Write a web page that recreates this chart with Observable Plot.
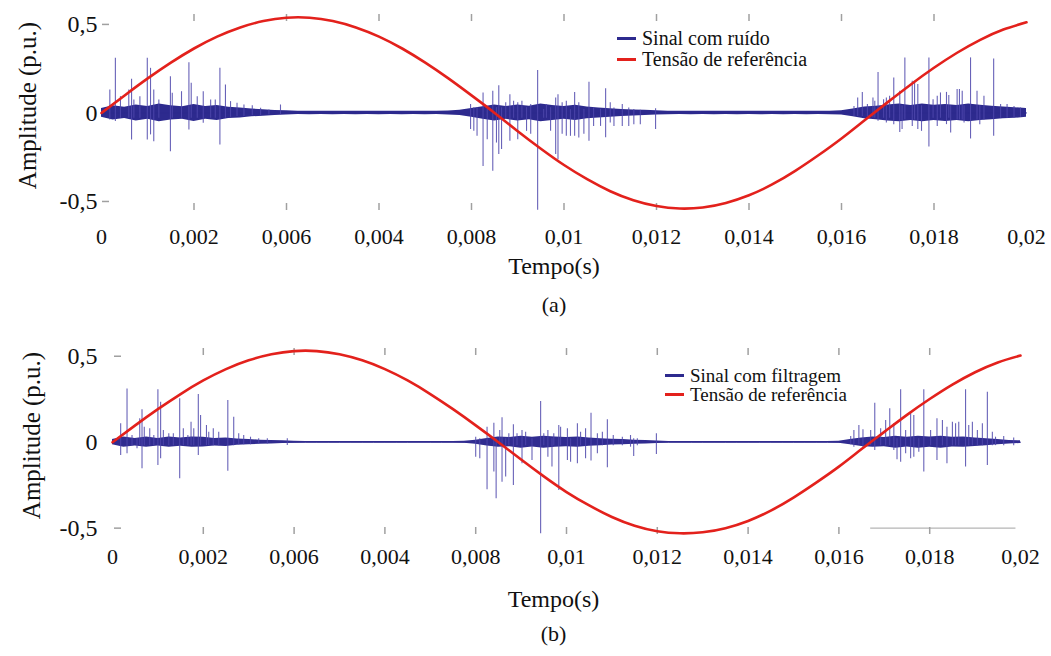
<!DOCTYPE html>
<html><head><meta charset="utf-8">
<script src="https://cdn.jsdelivr.net/npm/d3@7"></script>
<script src="https://cdn.jsdelivr.net/npm/@observablehq/plot@0.6"></script>
<style>
body{margin:0;background:#fff;}
#wrap{position:relative;width:1051px;height:656px;font-family:"Liberation Serif",serif;color:#111;overflow:hidden;}
.panel{position:absolute;left:0;}
.panel svg{display:block;}
.legend{position:absolute;color:#111;}
.legend div{display:flex;align-items:center;white-space:nowrap;}
.legend .sw{display:inline-block;width:19px;height:2.5px;margin-right:6px;}
</style></head>
<body><div id="wrap"></div>
<script>
// ---- axis ticks / labels ----
const xTickValues = [0,0.002,0.004,0.006,0.008,0.01,0.012,0.014,0.016,0.018,0.02];
const xTickLabels = ["0","0,002","0,006","0,004","0,008","0,01","0,012","0,014","0,016","0,018","0,02"];
const xTickMarks = [0.002,0.004,0.006,0.008,0.01,0.012,0.014,0.016,0.018];
const yTickValues = [-0.5,0,0.5];
const yTickLabels = ["-0,5","0","0,5"];
const xTitle = "Tempo(s)";
const yTitle = "Amplitude (p.u.)";
const seriesNamesA = ["Sinal com ruído","Tensão de referência"];
const seriesNamesB = ["Sinal com filtragem","Tensão de referência"];

// ---- reference voltage (red) ----
const refTime = [0,0.0005,0.001,0.0015,0.002,0.0025,0.003,0.0035,0.004,0.0045,0.005,0.0055,0.006,0.0065,0.007,0.0075,0.008,0.0085,0.009,0.0095,0.01,0.0105,0.011,0.0115,0.012,0.0125,0.013,0.0135,0.014,0.0145,0.015,0.0155,0.016,0.0165,0.017,0.0175,0.018,0.0185,0.019,0.0195,0.02];
const refA = [0,0.099,0.195,0.284,0.364,0.431,0.483,0.519,0.538,0.538,0.519,0.483,0.431,0.364,0.284,0.195,0.099,0,-0.103,-0.202,-0.294,-0.374,-0.442,-0.493,-0.526,-0.54,-0.534,-0.508,-0.465,-0.404,-0.327,-0.239,-0.144,-0.041,0.061,0.161,0.255,0.34,0.413,0.471,0.512];
const refB = [0,0.098,0.192,0.28,0.359,0.425,0.476,0.511,0.53,0.53,0.511,0.476,0.425,0.359,0.28,0.192,0.098,0,-0.101,-0.199,-0.29,-0.368,-0.435,-0.486,-0.518,-0.53,-0.524,-0.5,-0.458,-0.398,-0.322,-0.235,-0.142,-0.04,0.06,0.159,0.251,0.335,0.407,0.464,0.504];

// ---- dense noise band half-width (blue) ----
const bandTime = [0,0.00025,0.0005,0.00075,0.001,0.00125,0.0015,0.00175,0.002,0.00225,0.0025,0.00275,0.003,0.00325,0.0035,0.00375,0.004,0.00425,0.0045,0.00475,0.005,0.00525,0.0055,0.00575,0.006,0.00625,0.0065,0.00675,0.007,0.00725,0.0075,0.00775,0.008,0.00825,0.0085,0.00875,0.009,0.00925,0.0095,0.00975,0.01,0.01025,0.0105,0.01075,0.011,0.01125,0.0115,0.01175,0.012,0.01225,0.0125,0.01275,0.013,0.01325,0.0135,0.01375,0.014,0.01425,0.0145,0.01475,0.015,0.01525,0.0155,0.01575,0.016,0.01625,0.0165,0.01675,0.017,0.01725,0.0175,0.01775,0.018,0.01825,0.0185,0.01875,0.019,0.01925,0.0195,0.01975,0.02];
const bandA = [0.025,0.04,0.032,0.045,0.036,0.05,0.04,0.035,0.048,0.036,0.042,0.032,0.028,0.022,0.018,0.014,0.012,
0.009,0.01,0.009,0.01,0.009,0.01,0.009,0.01,0.009,0.01,0.009,0.01,0.009,0.011,
0.015,0.025,0.035,0.045,0.036,0.045,0.038,0.05,0.042,0.036,0.043,0.033,0.028,0.024,0.02,0.017,0.015,0.012,
0.01,0.009,0.01,0.009,0.01,0.009,0.01,0.009,0.01,0.009,0.01,0.009,0.01,0.009,0.01,0.012,
0.022,0.033,0.038,0.045,0.05,0.042,0.05,0.043,0.048,0.042,0.05,0.043,0.038,0.033,0.03,0.025];
const bandB = [0.015,0.03,0.022,0.03,0.022,0.03,0.024,0.03,0.028,0.022,0.025,0.018,0.015,0.012,0.01,0.008,0.006,
0.004,0.004,0.004,0.004,0.004,0.004,0.004,0.004,0.004,0.004,0.004,0.004,0.004,0.004,
0.006,0.012,0.022,0.03,0.027,0.035,0.028,0.035,0.03,0.027,0.03,0.024,0.02,0.017,0.015,0.012,0.01,0.007,
0.004,0.004,0.004,0.004,0.004,0.004,0.004,0.004,0.004,0.004,0.004,0.004,0.004,0.004,0.004,0.006,
0.015,0.025,0.03,0.027,0.035,0.028,0.035,0.03,0.035,0.028,0.03,0.025,0.02,0.015,0.01,0.008];

// ---- spikes, panel (a) ----
const spikeTA = [0.00018,0.0003,0.00041,0.00059,0.00065,0.0007,0.00083,0.00099,0.00106,0.00113,0.00124,0.00149,0.00153,0.00173,0.00189,0.00194,0.00207,0.0022,0.00236,0.00246,0.00256,0.00268,0.00279,0.00293,0.00308,0.00326,0.00344,0.00362,0.00387,
0.00798,0.00805,0.00812,0.00825,0.00834,0.00846,0.00854,0.00859,0.00865,0.00874,0.00883,0.00891,0.009,0.00909,0.00919,0.00928,0.00943,0.00956,0.00962,0.00971,0.00982,0.00987,0.00996,0.01005,0.01014,0.01023,0.01032,0.01043,0.01054,0.01064,0.01079,0.0109,0.011,0.01108,0.01126,0.0114,0.01151,0.01165,0.01198,
0.01627,0.01635,0.01645,0.01656,0.01668,0.01672,0.01679,0.01691,0.01697,0.01704,0.01713,0.01726,0.01731,0.01737,0.01753,0.01758,0.01765,0.01773,0.01789,0.01798,0.01807,0.01814,0.01827,0.01832,0.01836,0.0185,0.01855,0.01861,0.01865,0.01879,0.01893,0.01899,0.01908,0.01929,0.01944,0.01958,0.01973,0.01987];
const spikeHiA = [0.13,0.309,0.092,0.13,0.19,0.073,0.092,0.309,0.252,0.13,0.073,0.205,0.111,0.12,0.284,0.168,0.092,0.12,0.073,0.073,0.252,0.158,0.064,0.055,0.045,0.04,0.026,0.017,0.045,
0.047,0.03,0.03,0.113,0.019,0.122,0.03,0.154,0.03,0.057,0.103,0.066,0.057,0.066,0.03,0.047,0.24,0.019,0.047,0.03,0.085,0.103,0.057,0.066,0.019,0.116,0.057,0.019,0.173,0.028,0.02,0.136,0.057,0.028,0.047,0.028,0.019,0.015,0.023,
0.037,0.085,0.116,0.047,0.085,0.066,0.229,0.075,0.085,0.094,0.198,0.122,0.04,0.311,0.179,0.179,0.16,0.04,0.311,0.075,0.094,0.113,0.116,0.098,0.04,0.132,0.132,0.122,0.04,0.311,0.122,0.04,0.094,0.305,0.047,0.047,0.037,0.028];
const spikeLoA = [-0.04,-0.049,-0.03,-0.03,-0.153,-0.03,-0.03,-0.153,-0.124,-0.162,-0.03,-0.219,-0.03,-0.03,-0.096,-0.03,-0.03,-0.058,-0.03,-0.03,-0.181,-0.03,-0.025,-0.02,-0.02,-0.015,-0.015,-0.01,-0.01,
-0.094,-0.104,-0.132,-0.302,-0.151,-0.33,-0.17,-0.235,-0.207,-0.03,-0.16,-0.03,-0.151,-0.03,-0.104,-0.12,-0.55,-0.03,-0.03,-0.104,-0.235,-0.264,-0.12,-0.132,-0.132,-0.132,-0.141,-0.12,-0.16,-0.076,-0.076,-0.14,-0.057,-0.076,-0.076,-0.076,-0.066,-0.066,-0.094,
-0.02,-0.02,-0.02,-0.02,-0.028,-0.03,-0.047,-0.03,-0.057,-0.03,-0.066,-0.11,-0.094,-0.038,-0.076,-0.04,-0.094,-0.104,-0.192,-0.03,-0.076,-0.03,-0.066,-0.03,-0.113,-0.04,-0.04,-0.04,-0.057,-0.147,-0.04,-0.066,-0.04,-0.132,-0.03,-0.03,-0.03,-0.025];

// ---- spikes, panel (b) ----
const spikeTB = [0.00018,0.00032,0.00043,0.00054,0.0006,0.00065,0.0007,0.00082,0.00091,0.001,0.00106,0.00112,0.00124,0.00134,0.00148,0.00156,0.00166,0.00173,0.00179,0.00189,0.00194,0.00207,0.00212,0.00222,0.00234,0.00254,0.00267,0.00278,0.00289,0.00304,0.00322,0.00341,0.00385,
0.008,0.00809,0.00825,0.0084,0.00845,0.00853,0.00858,0.00866,0.00873,0.00883,0.00891,0.00902,0.0091,0.00924,0.00943,0.0095,0.00959,0.00968,0.00972,0.00983,0.00987,0.01002,0.01009,0.01024,0.01031,0.01042,0.01054,0.01068,0.01079,0.0109,0.01103,0.01123,0.01141,0.01148,0.01156,0.01198,
0.01626,0.01633,0.01644,0.01653,0.0167,0.01679,0.01692,0.01703,0.01712,0.01721,0.01728,0.01736,0.01747,0.01758,0.01765,0.01776,0.01787,0.01802,0.01816,0.01828,0.01838,0.0185,0.01857,0.01864,0.01879,0.01886,0.01894,0.01905,0.01916,0.01927,0.01938,0.01945,0.01963,0.01985];
const spikeHiB = [0.107,0.31,0.039,0.02,0.136,0.188,0.087,0.078,0.039,0.305,0.233,0.068,0.049,0.049,0.252,0.078,0.039,0.116,0.078,0.277,0.155,0.097,0.058,0.078,0.058,0.242,0.145,0.049,0.039,0.029,0.02,0.02,0.02,
0.029,0.02,0.087,0.11,0.02,0.068,0.142,0.02,0.049,0.101,0.049,0.068,0.058,0.02,0.237,0.049,0.068,0.02,0.049,0.097,0.087,0.078,0.02,0.107,0.058,0.078,0.169,0.049,0.058,0.13,0.039,0.029,0.039,0.02,0.02,0.049,
0.033,0.068,0.097,0.072,0.068,0.227,0.078,0.126,0.194,0.107,0.02,0.305,0.068,0.165,0.155,0.02,0.305,0.068,0.136,0.126,0.087,0.116,0.107,0.116,0.305,0.097,0.116,0.068,0.107,0.29,0.058,0.029,0.033,0.025];
const spikeLoB = [-0.077,-0.067,-0.02,-0.038,-0.02,-0.155,-0.02,-0.02,-0.02,-0.135,-0.097,-0.02,-0.02,-0.02,-0.213,-0.02,-0.02,-0.02,-0.02,-0.077,-0.02,-0.02,-0.02,-0.02,-0.02,-0.169,-0.02,-0.015,-0.015,-0.015,-0.01,-0.01,-0.019,
-0.087,-0.097,-0.277,-0.174,-0.329,-0.02,-0.233,-0.203,-0.02,-0.252,-0.02,-0.126,-0.02,-0.106,-0.533,-0.02,-0.087,-0.145,-0.02,-0.281,-0.02,-0.106,-0.116,-0.126,-0.02,-0.097,-0.11,-0.067,-0.02,-0.149,-0.02,-0.02,-0.029,-0.083,-0.02,-0.072,
-0.015,-0.029,-0.015,-0.038,-0.02,-0.048,-0.02,-0.02,-0.02,-0.048,-0.102,-0.116,-0.067,-0.097,-0.087,-0.058,-0.174,-0.02,-0.106,-0.02,-0.126,-0.02,-0.02,-0.02,-0.145,-0.02,-0.02,-0.02,-0.02,-0.135,-0.02,-0.02,-0.02,-0.02];

// stray axis segment visible in panel (b)
const strayB = [{y:-0.5, from:0.0167, to:0.0199}];

const FONT = "Liberation Serif";
const W = 1051;

function panel(cfg){
  const frameW = W - cfg.ml - cfg.mr;
  const frameH = cfg.plotBottom - cfg.mt;
  const band = bandTime.map((t,i)=>({t, w: cfg.band[i]}));
  const spikes = cfg.spikeT.map((t,i)=>({t, hi: cfg.spikeHi[i], lo: cfg.spikeLo[i]}));
  const ref = refTime.map((t,i)=>({t, v: cfg.ref[i]}));
  const marks = [
    Plot.tickX(xTickMarks, {x: d=>d, stroke:"#a0a0a0", strokeWidth:1.5, insetBottom: frameH-7}),
    Plot.tickX(xTickMarks, {x: d=>d, stroke:"#a0a0a0", strokeWidth:1.5, insetTop: frameH-7}),
    Plot.tickY(yTickValues, {y: d=>d, stroke:"#a0a0a0", strokeWidth:1.5, insetLeft: cfg.yTickInset, insetRight: frameW-cfg.yTickInset-7}),
    Plot.axisX({ticks: xTickValues, tickFormat: d => xTickLabels[xTickValues.indexOf(d)], tickSize:0, tickPadding: cfg.xPad, fontSize: 22, fontFamily: FONT, label: null}),
    Plot.axisY({ticks: yTickValues, tickFormat: d => yTickLabels[yTickValues.indexOf(d)], tickSize:0, tickPadding: cfg.yPad, fontSize: 24, fontFamily: FONT, label: null}),
    Plot.areaY(band, {x:"t", y1: d=>-d.w, y2: d=>d.w, fill: cfg.bandColor}),
    Plot.line(band, {x:"t", y: d=>0, stroke: cfg.bandColor, strokeWidth: cfg.lineW}),
    Plot.ruleX(spikes, {x:"t", y1:"lo", y2:"hi", stroke: cfg.spikeColor, strokeWidth:1.1, strokeOpacity:0.85}),
    Plot.line(ref, {x:"t", y:"v", stroke:"#e3211c", strokeWidth:2.6, curve:"natural"}),
    Plot.text([xTitle], {frameAnchor:"bottom", dx: cfg.titleDx, dy: cfg.xTitleDy, fontSize: 24, fontFamily: FONT, fill:"#111"}),
    Plot.text([cfg.tag], {frameAnchor:"bottom", dx: cfg.titleDx, dy: cfg.tagDy, fontSize: 22, fontFamily: FONT, fill:"#111"}),
    Plot.text([yTitle], {frameAnchor:"left", textAnchor:"middle", rotate:-90, dx: cfg.yTitleDx, dy: cfg.yTitleDy, fontSize: 25, fontFamily: FONT, fill:"#111"})
  ];
  if (cfg.stray) marks.unshift(Plot.ruleY(cfg.stray, {y:"y", x1:"from", x2:"to", stroke:"#b5b5b5", strokeWidth:1.2}));
  return Plot.plot({
    width: W, height: cfg.height,
    marginLeft: cfg.ml, marginRight: cfg.mr, marginTop: cfg.mt, marginBottom: cfg.height - cfg.plotBottom,
    x: {domain:[0,0.02]}, y: {domain: cfg.yDomain},
    style: {fontFamily: FONT, background: "transparent", color:"#111", overflow:"visible"},
    marks
  });
}

const wrap = document.getElementById("wrap");
function addPanel(svg, top){
  const d = document.createElement("div");
  d.className = "panel"; d.style.top = top + "px";
  d.appendChild(svg); wrap.appendChild(d);
}
function addLegend(names, left, top, lh, fs){
  const d = document.createElement("div");
  d.className = "legend"; d.style.left = left+"px"; d.style.top = top+"px"; d.style.fontSize = fs+"px";
  const cols = ["#2d2a8e","#e3211c"];
  names.forEach((n,i)=>{
    const r = document.createElement("div"); r.style.height = lh+"px"; r.style.lineHeight = lh+"px";
    const s = document.createElement("span"); s.className="sw"; s.style.background = cols[i];
    r.appendChild(s); r.appendChild(document.createTextNode(n)); d.appendChild(r);
  });
  wrap.appendChild(d);
}

addPanel(panel({
  height:330, ml:101, mr:25, mt:14, plotBottom:210, yDomain:[-0.551,0.556],
  band: bandA, spikeT: spikeTA, spikeHi: spikeHiA, spikeLo: spikeLoA, ref: refA,
  bandColor:"#2d2a8e", spikeColor:"#4d46ac", lineW:1,
  xPad:18, yPad:4, yTickInset:1, titleDx:-10, xTitleDy:63, tagDy:101, tag:"(a)",
  yTitleDx:-74, yTitleDy:-7
}), 0);
addPanel(panel({
  height:326, ml:112, mr:31, mt:18, plotBottom:204, yDomain:[-0.537,0.545],
  band: bandB, spikeT: spikeTB, spikeHi: spikeHiB, spikeLo: spikeLoB, ref: refB,
  bandColor:"#302c90", spikeColor:"#4d46ac", lineW:1,
  xPad:14, yPad:15, yTickInset:2, titleDx:-13, xTitleDy:72, tagDy:106, tag:"(b)",
  yTitleDx:-81, yTitleDy:-6, stray: strayB
}), 330);
addLegend(seriesNamesA, 617, 28, 21, 20);
addLegend(seriesNamesB, 665, 366, 19, 19);
</script>
</body></html>
